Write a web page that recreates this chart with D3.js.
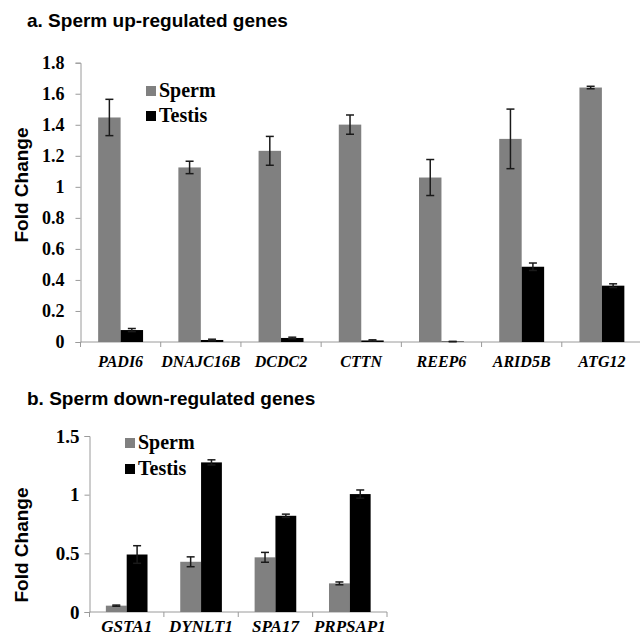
<!DOCTYPE html>
<html>
<head>
<meta charset="utf-8">
<script src="https://cdn.jsdelivr.net/npm/d3@7"></script>
<style>
  body { margin: 0; background: #fff; }
  .title { font-family: Arial, "Liberation Sans", sans-serif; font-weight: bold; }
  .ylab { font-family: Arial, "Liberation Sans", sans-serif; font-weight: bold; }
  .tick text { font-family: "Times New Roman", "Liberation Serif", serif; font-weight: bold; fill: #000; }
  .cat { font-family: "Times New Roman", "Liberation Serif", serif; font-weight: bold; font-style: italic; }
  .leg { font-family: "Times New Roman", "Liberation Serif", serif; font-weight: bold; }
</style>
</head>
<body>
<div id="chart"></div>
<script>
// panel a: sperm up-regulated
var genesA = ["PADI6", "DNAJC16B", "DCDC2", "CTTN", "REEP6", "ARID5B", "ATG12"];
var spermA = [1.447, 1.125, 1.232, 1.401, 1.060, 1.309, 1.640];
var spermErrA = [0.117, 0.040, 0.093, 0.062, 0.116, 0.192, 0.008];
var testisA = [0.077, 0.013, 0.026, 0.010, 0.003, 0.485, 0.363];
var testisErrA = [0.010, 0.005, 0.005, 0.004, 0.001, 0.024, 0.012];
var yTicksA = [0, 0.2, 0.4, 0.6, 0.8, 1, 1.2, 1.4, 1.6, 1.8];

// panel b: sperm down-regulated
var genesB = ["GSTA1", "DYNLT1", "SPA17", "PRPSAP1"];
var spermB = [0.054, 0.428, 0.466, 0.244];
var spermErrB = [0.005, 0.042, 0.042, 0.012];
var testisB = [0.490, 1.275, 0.820, 1.005];
var testisErrB = [0.075, 0.022, 0.014, 0.035];
var yTicksB = [0, 0.5, 1, 1.5];

var series = ["Sperm", "Testis"];
var colors = {"Sperm": "#808080", "Testis": "#000000"};
var axisColor = "#9a9a9a";

var svg = d3.select("#chart").append("svg")
    .attr("width", 640)
    .attr("height", 637);

function draw_panel(p) {
    var g = svg.append("g");

    g.append("text")
        .attr("class", "title")
        .attr("x", 27)
        .attr("y", p.titleY)
        .style("font-size", "19px")
        .text(p.title);

    var x0 = d3.scaleBand().domain(p.genes).range([p.left, p.right]);
    var bw = x0.bandwidth();
    var x1 = d3.scaleBand().domain(series).range([bw * 0.22, bw * 0.78]);
    var y = d3.scaleLinear().domain(p.domain).range([p.bottom, p.top]);

    // y axis
    var yAxis = d3.axisLeft(y).tickValues(p.ticks).tickSize(5).tickPadding(p.tickPad)
        .tickFormat(d3.format(""));
    var ya = g.append("g")
        .attr("transform", "translate(" + p.left + ",0)")
        .call(yAxis);
    ya.select(".domain").attr("stroke", axisColor);
    ya.selectAll(".tick line").attr("stroke", axisColor);
    ya.selectAll(".tick text").style("font-size", p.tickFont);

    // x axis line and category boundary ticks
    g.append("line")
        .attr("x1", p.left).attr("x2", p.right)
        .attr("y1", y(0)).attr("y2", y(0))
        .attr("stroke", axisColor);
    var bounds = p.genes.map(function(d) { return x0(d); }).concat([p.right]);
    g.selectAll("line.xt")
        .data(bounds)
        .enter().append("line")
        .attr("class", "xt")
        .attr("x1", d => d).attr("x2", d => d)
        .attr("y1", y(0)).attr("y2", y(0) + 5)
        .attr("stroke", axisColor);

    var rows = [];
    p.genes.forEach(function(gene, i) {
        rows.push({gene: gene, s: "Sperm", v: p.sperm[i], e: p.spermErr[i]});
        rows.push({gene: gene, s: "Testis", v: p.testis[i], e: p.testisErr[i]});
    });

    g.selectAll("rect.bar")
        .data(rows)
        .enter().append("rect")
        .attr("class", "bar")
        .attr("x", d => x0(d.gene) + x1(d.s))
        .attr("width", x1.bandwidth())
        .attr("y", d => y(d.v))
        .attr("height", d => y(0) - y(d.v))
        .attr("fill", d => colors[d.s]);

    // error bars
    var eb = g.selectAll("g.err")
        .data(rows)
        .enter().append("g")
        .attr("class", "err")
        .attr("transform", d => "translate(" + (x0(d.gene) + x1(d.s) + x1.bandwidth() / 2) + ",0)");
    eb.append("line")
        .attr("y1", d => y(d.v + d.e)).attr("y2", d => y(d.v - d.e))
        .attr("stroke", "#1a1a1a").attr("stroke-width", 1.5);
    eb.append("line")
        .attr("x1", -4).attr("x2", 4)
        .attr("y1", d => y(d.v + d.e)).attr("y2", d => y(d.v + d.e))
        .attr("stroke", "#1a1a1a").attr("stroke-width", 1.5);
    eb.append("line")
        .attr("x1", -4).attr("x2", 4)
        .attr("y1", d => y(d.v - d.e)).attr("y2", d => y(d.v - d.e))
        .attr("stroke", "#1a1a1a").attr("stroke-width", 1.5);

    // category labels
    g.selectAll("text.cat")
        .data(p.genes)
        .enter().append("text")
        .attr("class", "cat")
        .attr("x", d => x0(d) + bw / 2)
        .attr("y", p.catY)
        .attr("text-anchor", "middle")
        .style("font-size", p.catFont)
        .text(d => d);

    // y label
    g.append("text")
        .attr("class", "ylab")
        .attr("transform", "translate(28," + p.ylabY + ") rotate(-90)")
        .attr("text-anchor", "middle")
        .style("font-size", "19px")
        .text("Fold Change");

    // legend
    var leg = g.selectAll("g.leg")
        .data(series)
        .enter().append("g")
        .attr("class", "leg")
        .attr("transform", (d, i) => "translate(" + p.legX + "," + (p.legY + i * p.legStep) + ")");
    leg.append("rect")
        .attr("x", 0).attr("y", -11)
        .attr("width", 10).attr("height", 10)
        .attr("fill", d => colors[d]);
    leg.append("text")
        .attr("x", 13)
        .attr("y", 0)
        .style("font-size", "20px")
        .text(d => d);
}

draw_panel({
    title: "a. Sperm up-regulated genes", titleY: 27,
    genes: genesA, sperm: spermA, spermErr: spermErrA, testis: testisA, testisErr: testisErrA,
    ticks: yTicksA, domain: [0, 1.8],
    left: 80.5, right: 642, top: 62.7, bottom: 342,
    tickPad: 11, tickFont: "18px",
    catY: 367, catFont: "16px",
    ylabY: 185,
    legX: 146, legY: 97, legStep: 25
});

draw_panel({
    title: "b. Sperm down-regulated genes", titleY: 405,
    genes: genesB, sperm: spermB, spermErr: spermErrB, testis: testisB, testisErr: testisErrB,
    ticks: yTicksB, domain: [0, 1.5],
    left: 89.5, right: 387, top: 436, bottom: 612,
    tickPad: 5, tickFont: "19px",
    catY: 632, catFont: "17px",
    ylabY: 545,
    legX: 125, legY: 449, legStep: 26
});
</script>
</body>
</html>
